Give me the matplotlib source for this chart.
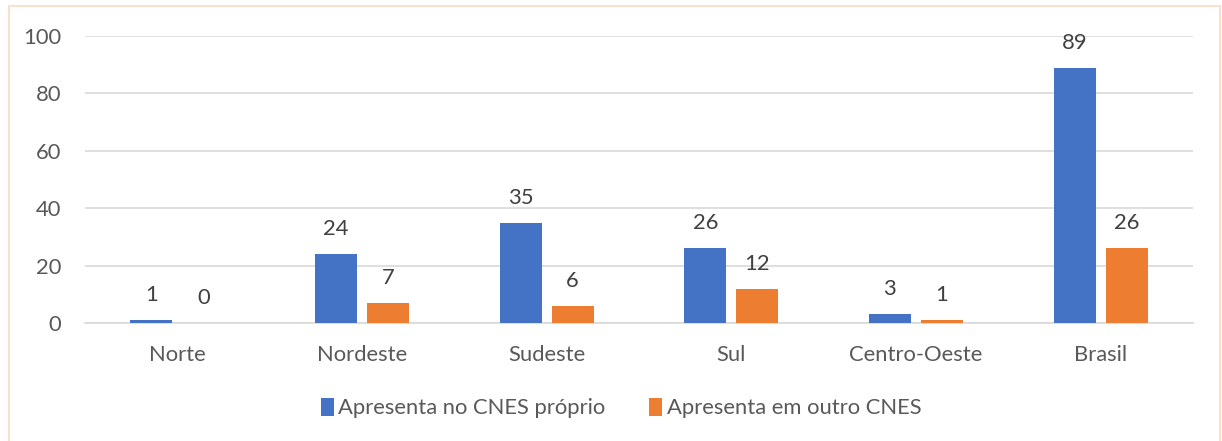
import matplotlib
matplotlib.use("Agg")
import matplotlib.pyplot as plt
import numpy as np
from matplotlib.patches import Rectangle

categories = ["Norte", "Nordeste", "Sudeste", "Sul", "Centro-Oeste", "Brasil"]
proprio = [1, 24, 35, 26, 3, 89]
outro = [0, 7, 6, 12, 1, 26]
series_names = ["Apresenta no CNES próprio", "Apresenta em outro CNES"]
yticks = [0, 20, 40, 60, 80, 100]

plt.rcParams['font.family'] = ['Lato', 'DejaVu Sans']
FS = 15.8

fig = plt.figure(figsize=(12.22, 4.41), dpi=100)
ax = fig.add_axes([85/1222, 1-323/441, (1193-85)/1222, (323-36)/441])

x = np.arange(len(categories))
w = 0.227
off = 0.141
b1 = ax.bar(x - off, proprio, w, color="#4472C4", label=series_names[0], zorder=3)
b2 = ax.bar(x + off, outro, w, color="#ED7D31", label=series_names[1], zorder=3)

for bars, vals in ((b1, proprio), (b2, outro)):
    for r, v in zip(bars, vals):
        ax.annotate(str(v), (r.get_x() + r.get_width()/2, v), xytext=(0, 18),
                    textcoords="offset points", ha="center", va="center",
                    fontsize=FS, color="#404040")

ax.set_xlim(-0.5, len(categories) - 0.5)
ax.set_ylim(0, 100)
ax.set_yticks(yticks)
ax.set_xticks(x)
ax.set_xticklabels(categories)
ax.yaxis.grid(True, color="#D9D9D9", linewidth=1.2, zorder=0)
ax.set_axisbelow(True)
for s in ["top", "right", "left"]:
    ax.spines[s].set_visible(False)
ax.spines["bottom"].set_color("#D9D9D9")
ax.spines["bottom"].set_linewidth(1.2)
ax.tick_params(axis="both", length=0, labelsize=FS, labelcolor="#595959")
ax.tick_params(axis="y", pad=17)
ax.tick_params(axis="x", pad=16)

leg = fig.legend(handles=[b1, b2], labels=series_names, loc="center",
                 bbox_to_anchor=(621/1222, 1-408/441), ncol=2, frameon=False,
                 fontsize=FS, handlelength=0.6, handleheight=0.9,
                 handletextpad=0.2, columnspacing=2.0, labelcolor="#595959")

# outer chart border
fig.add_artist(Rectangle((8.5/1222, -0.1), (1220-8.5)/1222, 1.1 - 6/441,
                         transform=fig.transFigure, fill=False,
                         edgecolor="#FBE0D0", linewidth=1.5))

fig.savefig("out.png", dpi=100)
